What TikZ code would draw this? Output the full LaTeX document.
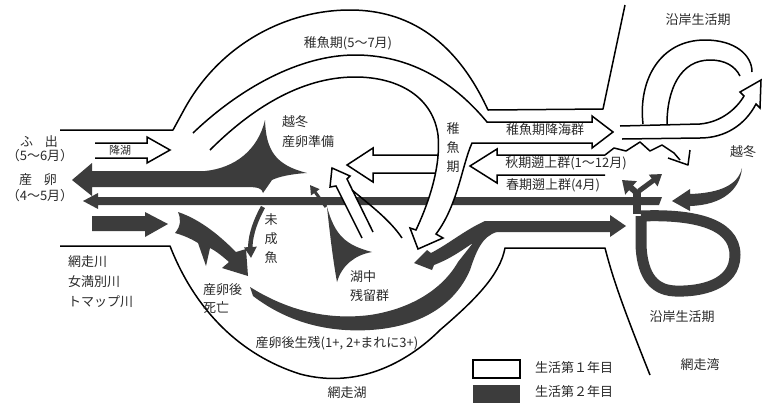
\documentclass[tikz,border=0pt]{standalone}
\usepackage{fontspec}
\setmainfont{Noto Sans CJK JP}
\usetikzlibrary{arrows.meta}
\definecolor{dk}{HTML}{3C3C3C}
\definecolor{tx}{HTML}{2A2A2A}
\begin{document}
\begin{tikzpicture}[x=1pt,y=-1pt,
  outl/.style={line width=1.5pt, black, line join=round},
  wt/.style={fill=white, draw=black, line width=1.5pt, line join=miter},
  lbl/.style={font=\fontsize{13}{15}\selectfont, inner sep=0pt, text=tx},
  sml/.style={font=\fontsize{11}{13}\selectfont, inner sep=0pt, text=tx},
  vlbl/.style={font=\fontsize{13}{19}\selectfont, inner sep=0pt, align=center, text=tx},
]
\useasboundingbox[fill=white] (0,0) rectangle (763,405);

% ---- lake / channel / coast outlines
\draw[outl] (60,130) -- (173,130) -- (185,108) .. controls (220,45) and (285,10) .. (350,10)
  .. controls (425,10) and (465,60) .. (488,110) -- (603,109) -- (625,5);
\draw[outl] (60,246) -- (170,246) .. controls (195,310) and (240,355) .. (300,374)
  .. controls (360,390) and (410,360) .. (440,330) .. controls (475,300) and (500,275) .. (505,248)
  -- (605,248) .. controls (612,275) and (620,300) .. (650,375);

% ---- long dark line (spring run)
\fill[dk] (83,201) -- (98,193) -- (98,197) -- (662,197) -- (659,205) -- (98,205) -- (98,209) -- cycle;

% ---- white arrows (1st year)
\filldraw[wt] (445,155) -- (373,155) -- (373,148) -- (347,165) -- (373,182) -- (373,173) -- (445,173);
\filldraw[wt] (605,155) -- (497,155) -- (497,149) -- (470,166) -- (497,183) -- (497,175) -- (605,175);
\filldraw[wt] (193,133) .. controls (240,88) and (300,55) .. (355,55)
  .. controls (420,55) and (462,92) .. (487,122) -- (592,122) -- (592,116) -- (613,132)
  -- (592,148) -- (592,143) -- (472,143) .. controls (462,165) and (458,205) .. (436,234)
  -- (443,238) -- (418,249) -- (410,228) -- (416,230)
  .. controls (430,200) and (441,165) .. (438,135) .. controls (433,98) and (400,77) .. (355,77)
  .. controls (300,77) and (250,110) .. (210,150);
\filldraw[wt] (95,143) -- (147,143) -- (147,137) -- (170,150) -- (147,163) -- (147,158) -- (95,158);
\filldraw[wt] (362,238) -- (336,186) -- (330,187) -- (332,168) -- (350,176) -- (347,179) -- (373,232);
\draw[outl] (352,190) .. controls (370,205) and (390,220) .. (402,238);
% sea loop (white)
\filldraw[wt] (620,126) -- (700,124) .. controls (722,122) and (737,108) .. (744,96) -- (740,92)
  -- (761,80) -- (760,108) -- (756,104) .. controls (745,125) and (725,138) .. (700,138) -- (622,139);
\draw[outl] (643,124) .. controls (638,80) and (660,40) .. (705,40) .. controls (735,40) and (752,55) .. (752,72);
\draw[outl] (667,124) .. controls (667,90) and (680,60) .. (710,60) .. controls (725,60) and (735,66) .. (740,76);
\draw[outl] (605,155) -- (614,148) -- (626,151) -- (640,142) -- (650,151) -- (662,145) -- (674,153) -- (680,160);
\draw[outl] (668,158) -- (688,165) -- (690,150);

% ---- dark shapes (2nd year)
\fill[dk] (72,180) -- (92,163) -- (92,171) -- (205,171) .. controls (235,168) and (258,150) .. (265,120)
  .. controls (266,150) and (275,165) .. (307,173) .. controls (290,174) and (278,177) .. (272,180)
  -- (263,193) .. controls (262,188) and (258,187) .. (245,187) -- (92,187) -- (92,196) -- cycle;
\fill[dk] (92,216) -- (145,216) -- (145,212) -- (168,224) -- (145,237) -- (145,231) -- (92,231) -- cycle;
\fill[dk] (178,212) .. controls (202,220) and (222,238) .. (236,252) -- (246,249) -- (248,276) -- (222,268)
  -- (229,262) .. controls (220,254) and (214,250) .. (210,248) -- (206,266) -- (198,243)
  .. controls (190,238) and (182,235) .. (175,233) .. controls (181,226) and (181,219) .. (178,212) -- cycle;
\draw[dk, line width=4.5pt, -{Triangle[length=11pt,width=12pt]}] (263,207) .. controls (253,225) and (250,240) .. (251,258);
\fill[dk] (250,287) .. controls (290,312) and (330,320) .. (370,315)
  .. controls (410,309) and (442,290) .. (458,262) -- (473,243)
  .. controls (462,250) and (452,258) .. (434,265) -- (432,270) -- (414,263) -- (427,250) -- (431,253)
  .. controls (450,243) and (465,230) .. (485,221) -- (610,221) -- (610,215) -- (626,226) -- (610,237) -- (610,232)
  -- (497,232) .. controls (482,236) and (476,252) .. (470,270)
  .. controls (455,305) and (420,327) .. (370,330) .. controls (320,333) and (282,318) .. (253,296) -- cycle;
\fill[dk] (327,207) .. controls (335,235) and (345,245) .. (372,252) .. controls (355,255) and (342,265) .. (337,282)
  .. controls (333,260) and (330,235) .. (327,207) -- cycle;
\draw[dk, line width=3pt, -{Triangle[length=9pt,width=10pt]}] (326,207) -- (310,185);
\draw[dk, line width=11pt, line join=round] (641,216) .. controls (690,214) and (735,222) .. (735,255)
  .. controls (735,285) and (700,292) .. (675,291) .. controls (650,290) and (642,270) .. (641,245) -- (641,216);
\draw[dk, line width=8pt] (637,214) -- (637,190);
\draw[dk, line width=6pt, -{Triangle[length=12pt,width=17pt]}] (637,193) -- (622,180);
\draw[dk, line width=5pt, -{Triangle[length=11pt,width=14pt]}] (639,191) -- (662,174);
\fill[dk] (742,168) .. controls (738,185) and (720,193) .. (690,194) -- (690,189) -- (672,201) -- (690,211)
  -- (690,206) .. controls (722,205) and (740,190) .. (742,168) -- cycle;

% ---- legend
\draw[line width=1.5pt, fill=white] (473,360) rectangle (520,378);
\fill[dk] (473,385) rectangle (520,403);

% ---- labels
\node[lbl] (l1) at (39,142) {ふ\hspace{0.9em}出};
\node[lbl] (l2) at (40,156) {（5～6月）};
\node[lbl] (l3) at (38,180) {産\hspace{0.9em}卵};
\node[lbl] (l4) at (40,196) {（4～5月）};
\node[sml] (l5) at (120,150) {降湖};
\node[lbl] (l6) at (348,43) {稚魚期(5～7月)};
\node[lbl, anchor=west] (l7) at (282,122) {越冬};
\node[lbl, anchor=west] (l8) at (282,142) {産卵準備};
\node[vlbl] (l9) at (453,148) {稚\\魚\\期};
\node[lbl] (l10) at (545,130) {稚魚期降海群};
\node[lbl] (l11) at (566,163) {秋期遡上群(1～12月)};
\node[lbl] (l12) at (553,185) {春期遡上群(4月)};
\node[lbl] (l13) at (698,20) {沿岸生活期};
\node[lbl] (l14) at (743,152) {越冬};
\node[vlbl] (l15) at (271,239) {未\\成\\魚};
\node[lbl, anchor=west] (l16) at (68,262) {網走川};
\node[lbl, anchor=west] (l17) at (68,282) {女満別川};
\node[lbl, anchor=west] (l18) at (68,302) {トマップ川};
\node[lbl, anchor=west] (l19) at (203,290) {産卵後};
\node[lbl, anchor=west] (l20) at (203,308) {死亡};
\node[lbl, anchor=west] (l21) at (350,277) {湖中};
\node[lbl, anchor=west] (l22) at (350,295) {残留群};
\node[lbl] (l23) at (337,343) {産卵後生残(1+, 2+まれに3+)};
\node[lbl] (l24) at (682,317) {沿岸生活期};
\node[lbl] (l25) at (700,365) {網走湾};
\node[lbl] (l26) at (347,393) {網走湖};
\node[lbl, anchor=west] (l27) at (535,368) {生活第１年目};
\node[lbl, anchor=west] (l28) at (535,392) {生活第２年目};
\end{tikzpicture}
\end{document}
